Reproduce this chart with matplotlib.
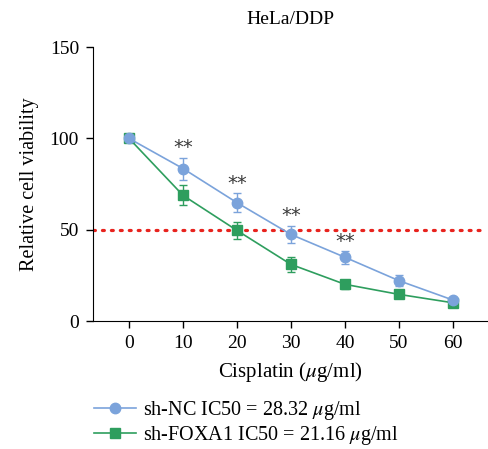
import matplotlib
matplotlib.use("Agg")
import matplotlib.pyplot as plt
from matplotlib.lines import Line2D

plt.rcParams['font.family'] = ['Liberation Serif', 'DejaVu Serif']
plt.rcParams['mathtext.fontset'] = 'stix'

doses = [0, 10, 20, 30, 40, 50, 60]
nc_vals = [100, 83.5, 64.8, 47.4, 34.9, 22.1, 11.5]
nc_err = [1.0, 6.0, 5.2, 4.8, 3.4, 3.0, 1.5]
fx_vals = [100, 68.8, 49.6, 31.0, 20.1, 14.6, 10.0]
fx_err = [1.0, 5.5, 4.5, 4.0, 2.5, 1.5, 1.0]
sig_doses = [10, 20, 30, 40]
nc_label = r'sh-NC IC50 = 28.32 $\mu$g/ml'
fx_label = r'sh-FOXA1 IC50 = 21.16 $\mu$g/ml'

blue = '#7BA3DB'
green = '#2E9E5E'
red = '#E8231E'

fig = plt.figure(figsize=(4.89, 4.49), dpi=100)
ax = fig.add_axes([0.190, 0.285, 0.808, 0.61])

ax.errorbar(doses, fx_vals, yerr=fx_err, color=green, marker='s', markersize=7,
            lw=1.2, capsize=3, elinewidth=1.0, capthick=1.0, zorder=3)
ax.errorbar(doses, nc_vals, yerr=nc_err, color=blue, marker='o', markersize=7.5,
            lw=1.2, capsize=3, elinewidth=1.0, capthick=1.0, zorder=4)

ax.axhline(50, xmax=0.99, color=red, lw=2.3, ls=(0, (0.6, 2.2)), dash_capstyle='round', zorder=2)

for d in sig_doses:
    i = doses.index(d)
    ax.text(d, nc_vals[i] + nc_err[i] + 0.3, '**', ha='center', va='bottom',
            fontsize=14, color='#3a3a3a', family='DejaVu Sans')

ax.set_xlim(-6.7, 66.5)
ax.set_ylim(0, 150)
ax.set_xticks(doses)
ax.set_yticks([0, 50, 100, 150])
ax.spines['top'].set_visible(False)
ax.spines['right'].set_visible(False)
ax.spines['left'].set_bounds(0, 150)
ax.tick_params(direction='out', length=5, width=1, labelsize=14, pad=5)
ax.set_xlabel(r'Cisplatin ($\mu$g/ml)', fontsize=15, labelpad=6)
ax.set_ylabel('Relative cell viability', fontsize=14.5, labelpad=8)
ax.set_title('HeLa/DDP', fontsize=14, pad=17)

handles = [
    Line2D([], [], color=blue, marker='o', markersize=7.5, lw=1.2),
    Line2D([], [], color=green, marker='s', markersize=7, lw=1.2),
]
fig.legend(handles, [nc_label, fx_label], loc='upper left',
           bbox_to_anchor=(0.175, 0.13), frameon=False, fontsize=14.5,
           handlelength=2.1, handletextpad=0.35, labelspacing=0.12,
           borderaxespad=0)

fig.savefig('out.png', dpi=100)
